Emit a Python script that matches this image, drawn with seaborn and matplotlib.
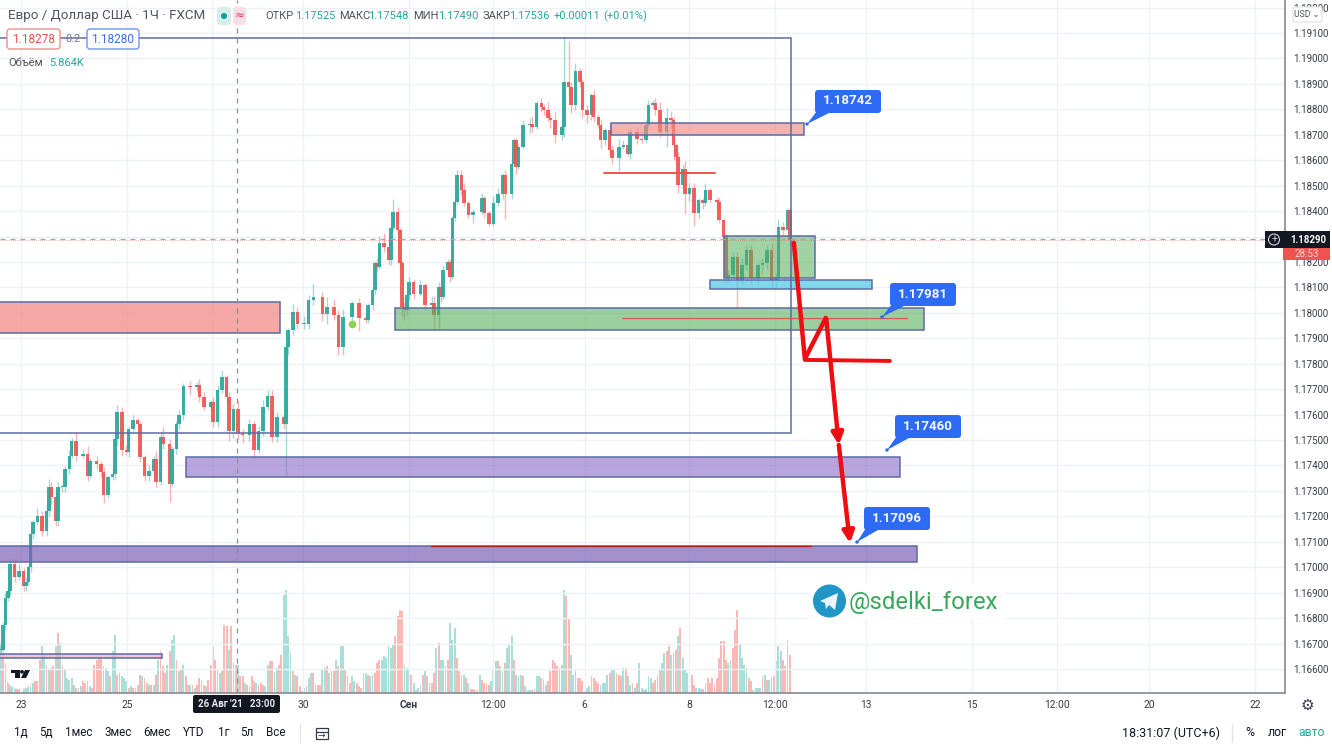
import matplotlib
matplotlib.use("Agg")
import matplotlib.pyplot as plt
from matplotlib.patches import Rectangle, FancyBboxPatch, Circle, Polygon
from matplotlib.colors import to_rgba
import numpy as np
import pandas as pd
import seaborn as sns

# ---------- candles (hour index, close; open = previous close; wicks in pips) ----------
hours = [0,1,2,3,4,6,8,10,11,12, 13,14,16,18,20,21,22,24,25,27,
         28,30,31,33,36,38,39,42,44,45, 47,49,50,51,53,55,56,58,60,61,
         63,65,67,68,70,71,74,75,77,78, 80,83,86,87,89,92,93,95,97,99,
         100,102,104,106,109,111,113,115,117,119, 121,124,125,
         126,128,130,133,135,137,141,143,146,148, 150,154,157,160,161,163,164,165,166,168,
         170,171,172,174,175,176,177,178,179,181, 184,186,189,190,192,193,194,196,197,198,
         199,200,202,203,205,207,211,212,214,216, 218,220,221,224,225,226,227,229,232,233, 235,
         237,238,240,241,243,246,247,249,250,252, 254,255,257,259,260,262,263,265,267,268,
         271,273,275,276,279,281,283,284,286,287, 289,292,294,295,296,297,299,300,302,304,
         306,308,309,311,314,315,317,318,319,321, 323,325,327,329,332,334,336,338,340,341, 343,345,346]
closes = [1.16675,1.16773,1.16879,1.16908,1.17013,1.16961,1.16987,1.16928,1.16941,1.17000,
          1.17131,1.17177,1.17203,1.17144,1.17223,1.17315,1.17275,1.17183,1.17315,1.17315,
          1.17387,1.17439,1.17498,1.17439,1.17446,1.17360,1.17419,1.17406,1.17374,1.17282,
          1.17354,1.17367,1.17505,1.17609,1.17459,1.17452,1.17544,1.17577,1.17564,1.17432,
          1.17360,1.17380,1.17426,1.17334,1.17511,1.17485,1.17328,1.17465,1.17564,1.17600,
          1.17714,1.17708,1.17718,1.17668,1.17629,1.17649,1.17570,1.17695,1.17747,1.17668,
          1.17537,1.17623,1.17524,1.17518,1.17564,1.17459,1.17537,1.17629,1.17675,1.17511,
          1.17590,1.17564,1.17865,
          1.17932,1.18004,1.17958,1.17958,1.18050,1.18063,1.17997,1.18024,1.17991,1.17866,
          1.17984,1.18037,1.17978,1.17971,1.18030,1.18089,1.18194,1.18181,1.18273,1.18259,
          1.18207,1.18332,1.18397,1.18325,1.18194,1.18024,1.18010,1.18069,1.18122,1.18076,
          1.18109,1.18030,1.18037,1.17991,1.18102,1.18063,1.18168,1.18201,1.18142,1.18371,
          1.18436,1.18541,1.18482,1.18430,1.18384,1.18397,1.18450,1.18391,1.18351,1.18430,
          1.18469,1.18541,1.18469,1.18587,1.18679,1.18574,1.18653,1.18738,1.18744,1.18731,
          1.18823,
          1.18810,1.18797,1.18764,1.18758,1.18699,1.18731,1.18908,1.18889,1.18816,1.18951,
          1.18908,1.18797,1.18777,1.18856,1.18771,1.18738,1.18679,1.18718,1.18640,1.18607,
          1.18653,1.18659,1.18626,1.18712,1.18685,1.18679,1.18738,1.18816,1.18826,1.18797,
          1.18712,1.18764,1.18758,1.18659,1.18613,1.18502,1.18567,1.18469,1.18489,1.18391,
          1.18443,1.18430,1.18482,1.18443,1.18436,1.18364,1.18299,1.18142,1.18148,1.18220,
          1.18128,1.18187,1.18246,1.18135,1.18187,1.18194,1.18246,1.18128,1.18135,1.18338,
          1.18325,1.18404,1.18286]
wick_up = [1,1,2,2,2,2,3,1,2,1, 2,1,3,2,3,3,2,3,2,1, 1,2,1,3,2,3,1,2,1,2, 1,3,2,3,2,2,1,2,1,1,
           1,2,1,3,2,4,2,1,1,2, 1,2,1,2,2,1,2,2,3,1, 2,2,3,2,2,1,2,3,2,2, 2,1,2,
           1,3,2,3,2,5,2,4,3,2, 3,1,2,2,1,1,1,2,3,4, 4,1,5,2,1,1,2,2,2,1, 2,1,3,3,2,1,2,1,1,1,
           1,2,2,3,1,1,2,1,1,3, 2,1,2,2,1,1,1,2,2,3, 1,
           2,1,3,2,3,1,18,16,2,3, 1,1,2,1,2,1,2,1,3,2, 3,2,1,1,2,3,2,2,1,2, 3,4,3,1,1,2,2,3,2,2,
           1,1,3,1,1,2,1,1,2,2, 2,3,2,2,1,2,2,3,2,3, 2,1,1]
wick_dn = [1,1,2,1,2,2,1,2,2,1, 2,2,1,2,2,2,3,2,2,2, 2,2,1,2,1,2,1,2,2,3, 1,1,2,3,2,1,2,1,1,2,
           2,2,3,2,1,2,7,1,2,2, 2,3,2,2,1,2,2,2,1,3, 4,3,2,3,2,3,1,2,1,2, 2,2,20,
           3,2,2,2,2,2,3,4,2,3, 3,2,5,1,1,2,2,2,1,2, 2,2,1,2,2,4,4,2,2,2, 1,2,2,5,5,2,1,2,2,1,
           1,1,2,1,1,3,1,2,1,1, 1,2,10,2,1,3,1,1,3,2, 1,
           2,2,1,3,3,2,4,4,3,2, 2,3,3,2,2,1,3,2,2,2, 5,1,1,2,2,1,1,1,1,2, 2,6,3,6,2,3,2,8,3,5,
           2,2,1,1,2,1,1,3,2,1, 11,2,2,2,2,3,2,3,3,1, 2,1,2]

# ---------- volume, one bar per hour ----------
volume = [150,120,90,40,35,30,25,15,15, 20,25,30,35,30,30,35,35,100,140,
          115,80,70,75,80,140,180,150,80,70, 45,40,45,25,15,15,20,35,30,
          35,20,15,85,100,105,105,80,75,65, 50,125,175,55,60,50,45,35,15,20,
          15,15,25,55,50,45,30,25,25,25, 55,100,125,80,60,85,125,160,175,100,
          65,70,85,50,25,25,25,15,25, 45,40,25,20,40,85,140,100,70,60,
          65,205,200,130,200,90,85,85,50,50, 30,25,20,50,35,30,25,30,25,
          20,85,95,95,60,75,85,115,295,310, 170,120,65,55,50,20,5,15,20,
          45,60,60,30,25,25,70,75,80,60, 65,65,100,80,140,140,70,50,30,50,
          35,30,20,15,60,60,55,50,55, 60,90,100,100,110,105,140,135,145,170,
          230,250,
          245,85,75,70,55,30,10,15,25,55, 65,50,30,30,60,135,150,100,100,80,
          100,210,160,195,105,65,55,55,45,30, 12,12,10,10,55,40,30,30,25,35,70,
          95,95,80,65,90,135,145,170,100,55, 50,55,50,20,8,8,8,12,50,52,45,
          42,25,35,65,100,90,80,75,85,310, 290,225,115,55,65,45,45,35,5,15,
          20,50,45,35,30,25,30,30,55,60,70, 70,60,55,50,75,75,50,25,30,15,
          30,90,15,10,12,50,45,30,40,55, 70,90,120,125,140,115,120,130,170,195,
          105,70,60,55,55,25,15,15,12,12,30, 45,30,45,25,45,105,155,155,100,90,
          100,135,190,250,145,105,85,75,45,35, 10,15,15,15,50,55,40,40,45,50,95,
          140,125,100,80,160,115]
volume_dir = ("grgrgggrr" "ggggggrrrg" "grgrrgrgrg" "gggrgrgrr" "ggrrrrrggg" "rggrrgggrg"
              "rgrrgrrgrg" "rgrrrgrggr" "grgrrgrgr" "rrrgrrgrgg" "rrrgrgrgrr" "grgrrgrrr"
              "ggrrggrrgg" "ggrgrrggr" "ggrgrrggrg" "rrgrggrgrg" "grrrggrgg" "rrrggggggr"
              "rr"
              "rgggrggggr" "grgrrgrggg" "rgggrrggrg" "rrrrgrrrrgg" "grggrgggrg" "ggrgggrrggr"
              "ggrrrrrrgg" "rrgggrrrgg" "grrrrggggrg" "grrrgrggrg" "rggggggrrr" "rggrrgrrgr"
              "gggrrrgggrg" "rrrrrrrrrg" "grrrggggrr" "ggggrgrgrrg" "ggrrgr")

# ---------- price axis and time axis ----------
price_ticks = [1.166,1.167,1.168,1.169,1.170,1.171,1.172,1.173,1.174,1.175,1.176,1.177,
               1.178,1.179,1.180,1.181,1.182,1.183,1.184,1.185,1.186,1.187,1.188,1.189,
               1.190,1.191,1.192]
time_ticks = [8.8,55.3,92.5,132.5,179,215.8,256,302,339.5,379.4,426,463,503.5,550]
time_labels = ["23","25","","30","Сен","12:00","6","8","12:00","13","15","12:00","20","22"]

# ---------- drawn zones: hour start, hour end, price low, price high, fill, alpha ----------
zone_h0 = [-5, 267.5, 317.1, 310.9, 172.8, 81.1, -5, -5, -5]
zone_h1 = [122.4, 352.2, 357, 382, 404.8, 394.3, 401.8, 70.6, 346.5]
zone_lo = [1.17921, 1.18699, 1.18137, 1.18094, 1.17933, 1.17355, 1.17021, 1.16642, 1.17528]
zone_hi = [1.18043, 1.18746, 1.18302, 1.18129, 1.18019, 1.17433, 1.17083, 1.16658, 1.19080]
zone_fc = ["#f28b87", "#ee8a88", "#55ae5c", "#57cbe6", "#58af5e", "#8e6fc8", "#7a5cb8", "#eeb0c4", "none"]
zone_a  = [0.75, 0.65, 0.55, 0.75, 0.6, 0.62, 0.68, 0.75, 0]

line_h0 = [264.5, 272.4, 188.6]
line_h1 = [313.2, 397.4, 355.3]
line_p  = [1.18550, 1.17980, 1.17083]
line_c  = ["#ef5350", "#e2574f", "#b02020"]
line_w  = [1.4, 0.9, 1.0]

# ---------- hand-drawn red forecast (hour, price) ----------
path_h = [347.8, 352.6, 361.8]
path_p = [1.18275, 1.17819, 1.17980]
level_h = [352.6, 389.9]
level_p = [1.17815, 1.17811]
arrow_h = [362.0, 367.5, 372.4]
arrow_p = [1.17976, 1.17481, 1.17095]

GREEN, RED = "#26a69a", "#ef5350"
LAST = 1.18290
W, H = 1332, 745
PLOT_R, PLOT_B = 1285, 693
PX_PER_HOUR = 2.28
PX_PER_PRICE = 25.44 / 0.001

sns.set_theme(style="white")
plt.rcParams["font.family"] = ["Roboto", "DejaVu Sans"]

fig = plt.figure(figsize=(W / 100, H / 100), dpi=100, facecolor="white")
rect = [0, (H - PLOT_B) / H, PLOT_R / W, PLOT_B / H]
xlim = (-0.4, -0.4 + PLOT_R / PX_PER_HOUR)
ylim = (1.191 - (PLOT_B - 33) / PX_PER_PRICE, 1.191 + 33 / PX_PER_PRICE)

# volume pane, through seaborn
axv = fig.add_axes(rect, zorder=1)
vol_df = pd.DataFrame({"hour": np.arange(len(volume)), "volume": volume,
                       "dir": list(volume_dir)})
sns.barplot(data=vol_df, x="hour", y="volume", hue="dir", native_scale=True, dodge=False,
            palette={"g": "#aadfd9", "r": "#fbb9b6"}, width=0.8, linewidth=0, saturation=1,
            legend=False, ax=axv)
axv.set_xlim(xlim)
axv.set_ylim(0, PLOT_B * 3)
axv.axis("off")

# price pane
ax = fig.add_axes(rect, zorder=2)
ax.patch.set_alpha(0)
ax.set_xlim(xlim)
ax.set_ylim(ylim)
ax.set_xticks(time_ticks, time_labels)
ax.set_yticks(price_ticks, [f"{p:.5f}" for p in price_ticks])
ax.yaxis.tick_right()
ax.tick_params(axis="y", length=0, pad=6, labelsize=7.0, labelcolor="#363a45")
ax.tick_params(axis="x", length=0, pad=5, labelsize=7.4, labelcolor="#363a45")
for lab in ax.get_xticklabels():
    if lab.get_text() == "Сен":
        lab.set_fontweight("bold")
ax.grid(True, color="#eef2f7", lw=1)
ax.set_axisbelow(True)
for s in ["top", "left"]:
    ax.spines[s].set_visible(False)
ax.spines["right"].set_color("#8a8e99")
ax.spines["bottom"].set_color("#8a8e99")

# candles
opens = [closes[0]] + closes[:-1]
body_w = 1.55
for h, o, c, u, d in zip(hours, opens, closes, wick_up, wick_dn):
    col = GREEN if c >= o else RED
    ax.vlines(h, min(o, c) - d * 1e-4, max(o, c) + u * 1e-4, color=col, lw=1.0, alpha=0.42, zorder=3)
    ax.bar(h, max(abs(c - o), 4e-5), bottom=min(o, c), width=body_w, color=col, lw=0, alpha=0.9, zorder=3.2)

# zones
for h0, h1, lo, hi, fc, a in zip(zone_h0, zone_h1, zone_lo, zone_hi, zone_fc, zone_a):
    face = "none" if fc == "none" else to_rgba(fc, a)
    ax.add_patch(Rectangle((h0, lo), h1 - h0, hi - lo, fc=face, ec="#5c6ba6", lw=1.1, zorder=4))
for h0, h1, p, c, w in zip(line_h0, line_h1, line_p, line_c, line_w):
    ax.plot([h0, h1], [p, p], color=c, lw=w, zorder=5)

# crosshair and last price
ax.axvline(103.4, color="#8a8e99", lw=0.9, ls=(0, (4, 4)), zorder=5)
ax.axhline(LAST + 1e-5, color="#a5a8b0", lw=0.9, ls=(0, (4, 4)), zorder=5)
ax.axhline(LAST - 2e-5, color="#ef5350", lw=0.6, ls=(0, (1, 1.5)), alpha=0.6, zorder=5)
ax.plot([154], [1.17957], "o", color="#8fd14f", ms=4.5, zorder=5)

# forecast
ax.plot(path_h, path_p, color="#f00d12", lw=3.2, solid_capstyle="round", solid_joinstyle="round", zorder=6)
ax.plot(level_h, level_p, color="#f00d12", lw=2.8, solid_capstyle="round", zorder=6)
for i in range(len(arrow_h) - 1):
    ax.annotate("", xy=(arrow_h[i + 1], arrow_p[i + 1]), xytext=(arrow_h[i], arrow_p[i]),
                arrowprops=dict(arrowstyle="-|>", color="#f00d12", lw=3.2, mutation_scale=17,
                                shrinkA=0, shrinkB=0), zorder=6)

# ---------- screen furniture in screen pixels ----------
ui = fig.add_axes([0, 0, 1, 1], zorder=3)
ui.set_xlim(0, W)
ui.set_ylim(H, 0)
ui.axis("off")
ui.patch.set_alpha(0)

INK = "#131722"
GREY = "#50535e"
TEAL = "#26a69a"

def t(x, y, s, size=8.3, color=INK, ha="center", weight="normal", **kw):
    ui.text(x, y, s, fontsize=size, color=color, ha=ha, va="center", fontweight=weight, **kw)

# header
t(8, 16, "Евро / Доллар США · 1Ч · FXCM", size=9.6, color=GREY, ha="left")
ui.add_patch(FancyBboxPatch((219, 9), 10, 14, boxstyle="round,pad=0,rounding_size=2", fc="#d5eeeb", ec="#d5eeeb", lw=3))
ui.add_patch(FancyBboxPatch((235, 9), 9, 14, boxstyle="round,pad=0,rounding_size=2", fc="#fbdde6", ec="#fbdde6", lw=3))
ui.add_patch(Circle((224, 16), 3, fc="#0f9d8f", ec="none"))
t(240, 16, "≈", size=8.5, color="#d83a6a", family="DejaVu Sans")
ohlc_x = [265, 295, 339, 368, 413, 438, 483, 509, 554, 603]
ohlc_s = ["ОТКР", "1.17525", "МАКС", "1.17548", "МИН", "1.17490", "ЗАКР", "1.17536", "+0.00011", "(+0.01%)"]
for x, s in zip(ohlc_x, ohlc_s):
    lab = s in ("ОТКР", "МАКС", "МИН", "ЗАКР")
    t(x, 16, s, size=8.0, color=GREY if lab else TEAL, ha="left")

ui.add_patch(FancyBboxPatch((7, 29), 53, 20, boxstyle="round,pad=0,rounding_size=3", fc="white", ec="#ef8f8c", lw=1))
t(33.5, 39.5, "1.18278", size=8.6, color="#e5534f")
t(73, 39.5, "0.2", size=7.8, color="#787b86")
ui.add_patch(FancyBboxPatch((87, 29), 52, 20, boxstyle="round,pad=0,rounding_size=3", fc="white", ec="#6f93ef", lw=1))
t(113, 39.5, "1.18280", size=8.6, color="#3f6fe8")
t(8, 63.5, "Объём", size=8.0, color=GREY, ha="left")
t(49, 63.5, "5.864K", size=8.0, color=TEAL, ha="left")

# USD button
ui.add_patch(FancyBboxPatch((1293, 7), 29, 15, boxstyle="round,pad=0,rounding_size=2", fc="white", ec="#dfe1e6", lw=0.8, zorder=5))
t(1307, 14.5, "USD ⌄", size=6.2, color=GREY, zorder=6)

# price labels at the crosshair
ui.add_patch(Rectangle((1265, 231), 65, 17, fc="#131722", ec="none", zorder=5))
ui.add_patch(Circle((1274, 239.5), 5.5, fc="none", ec="#d1d4dc", lw=0.8, zorder=6))
t(1274, 239.3, "+", size=7.5, color="#d1d4dc", zorder=6)
t(1308, 239.8, "1.18290", size=7.0, color="white", weight="bold", zorder=6)
ui.add_patch(Rectangle((1283, 248), 47, 12, fc="#ef5350", ec="none", zorder=5))
t(1307, 254, "28:53", size=7, color="#ffd6d4", zorder=6)

# date badge
ui.add_patch(FancyBboxPatch((193, 695), 87, 18, boxstyle="round,pad=0,rounding_size=2", fc="#131722", ec="none"))
t(236.5, 704.3, "26 Авг '21   23:00", size=7.0, color="#e8e8ea", weight="bold")

# toolbar
bar_x = [21, 46, 79, 118, 157, 194, 224, 247, 276]
bar_s = ["1д", "5д", "1мес", "3мес", "6мес", "YTD", "1г", "5л", "Все"]
for x, s in zip(bar_x, bar_s):
    t(x, 733, s, size=8.4)
ui.plot([300, 300], [724, 742], color="#e0e3eb", lw=0.9)
ui.add_patch(Rectangle((316, 728), 12, 11, fc="none", ec="#363a45", lw=0.9))
ui.plot([316, 328], [731.5, 731.5], color="#363a45", lw=0.9)
t(321, 735, "→", size=6.5, color="#363a45", family="DejaVu Sans")
t(1171, 733, "18:31:07 (UTC+6)", size=9.0)
ui.plot([1232, 1232], [724, 742], color="#e0e3eb", lw=0.9)
t(1250, 733, "%", size=8.8)
t(1277, 733, "лог", size=8.8)
t(1312, 733, "авто", size=8.8, color=TEAL)
t(1307, 705, "⚙", size=11, color="#363a45", family="DejaVu Sans")

# logo
ui.add_patch(Circle((20, 675), 14, fc="white", ec="#eceef2", lw=0.8, zorder=5))
ui.add_patch(Rectangle((11, 670), 8.5, 3, fc=INK, ec="none", zorder=6))
ui.add_patch(Rectangle((15, 673), 4.5, 5, fc=INK, ec="none", zorder=6))
ui.add_patch(Circle((22, 671.8), 1.9, fc=INK, ec="none", zorder=6))
ui.add_patch(Polygon([(25, 670), (30, 670), (26, 678), (21, 678)], closed=True, fc=INK, ec="none", zorder=6))

# callouts
BLUE = "#2d6bf4"
callouts = [(815, 90, "1.18742", 807, 124), (890, 283, "1.17981", 882, 317),
            (895, 415, "1.17460", 887, 450), (864, 507, "1.17096", 857, 542)]
for bx, by, s, tx, ty in callouts:
    ui.add_patch(FancyBboxPatch((bx, by), 66, 23, boxstyle="round,pad=0,rounding_size=3", fc=BLUE, ec="none"))
    ui.add_patch(Polygon([(bx + 2, by + 21), (bx + 14, by + 23), (tx, ty)], closed=True, fc=BLUE, ec="none"))
    ui.add_patch(Circle((tx, ty), 1.7, fc=BLUE, ec="none"))
    t(bx + 33, by + 11, s, size=9.6, color="#f4f7ff", weight="bold")

# telegram mark
ui.add_patch(Rectangle((810, 584), 195, 35, fc="white", ec="none", alpha=0.95))
ui.add_patch(Circle((829.5, 601), 16.5, fc="#1f96c6", ec="none"))
ui.add_patch(Polygon([(820, 601), (838, 593), (835, 610), (829, 605), (826, 609), (825, 603)],
                     closed=True, fc="#e9f5fb", ec="none"))
t(849, 602, "@sdelki_forex", size=17.2, color="#37a85a", ha="left")

fig.savefig("out.png", dpi=100, facecolor="white")
print(len(hours), len(closes), len(wick_up), len(wick_dn), len(volume), len(volume_dir))
